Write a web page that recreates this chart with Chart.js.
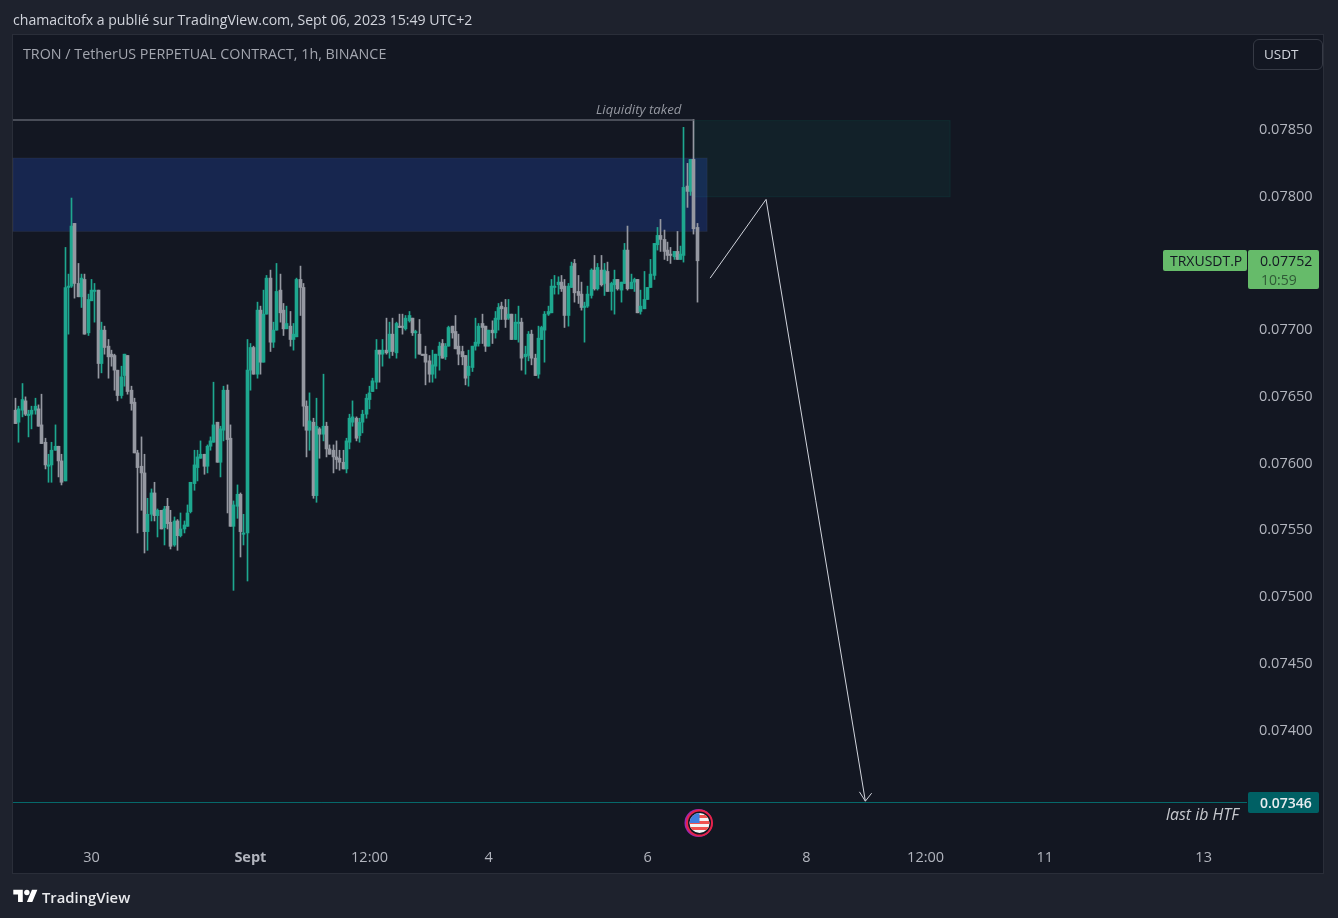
<!DOCTYPE html>
<html lang="fr">
<head>
<meta charset="utf-8">
<title>TRXUSDT.P 1h</title>
<script src="https://cdn.jsdelivr.net/npm/chart.js@4"></script>
<style>
  html, body { margin: 0; padding: 0; width: 1338px; height: 918px; background: #1e222d; overflow: hidden; font-family: 'Open Sans', sans-serif; }
  #pane { position: absolute; left: 12px; top: 34px; width: 1310px; height: 838px; background: #131722; border: 1px solid #2a2e39; }
  #wrap { position: absolute; left: 0; top: 0; width: 1338px; height: 918px; }
  .t { position: absolute; white-space: nowrap; }
  .box { position: absolute; border-radius: 2px; }
</style>
</head>
<body>
<div id="pane"></div>
<div id="wrap"><canvas id="chart" width="1338" height="918"></canvas></div>

<div class="t" style="left:13px;top:10px;font-size:14.1px;color:#d1d4dc">chamacitofx a publié sur TradingView.com, Sept 06, 2023 15:49 UTC+2</div>
<div class="t" style="left:23px;top:44px;font-size:14.3px;color:#a3a6af">TRON / TetherUS PERPETUAL CONTRACT, 1h, BINANCE</div>
<div class="box" style="left:1253px;top:39px;width:68px;height:29px;border:1px solid #363a45;border-radius:6px"></div>
<div class="t" style="left:1264px;top:45px;font-size:13.5px;color:#d1d4dc">USDT</div>
<div class="t" style="left:596px;top:100px;font-size:13.2px;font-style:italic;color:#9598a1">Liquidity taked</div>
<div class="box" style="left:1163px;top:250px;width:84px;height:21px;background:#66bb6a"></div>
<div class="t" style="left:1170px;top:251px;font-size:14px;color:#131722">TRXUSDT.P</div>
<div class="box" style="left:1248px;top:250px;width:71px;height:39px;background:#66bb6a"></div>
<div class="t" style="left:1260px;top:251px;font-size:14.2px;color:#131722">0.07752</div>
<div class="t" style="left:1261px;top:270px;font-size:14px;color:#2f5a36">10:59</div>
<div class="box" style="left:1248px;top:792px;width:71px;height:21px;background:#006064"></div>
<div class="t" style="left:1260px;top:793px;font-size:14px;font-weight:600;color:#e8ecef">0.07346</div>
<div class="t" style="left:1166px;top:803px;font-size:15.9px;font-style:italic;color:#c6c8ce">last ib HTF</div>

<svg style="position:absolute;left:684px;top:808px" width="30" height="30" viewBox="0 0 30 30">
  <defs><clipPath id="flagClip"><circle cx="15" cy="15" r="10"/></clipPath></defs>
  <circle cx="14.5" cy="15" r="14" fill="#9c27b0"/>
  <circle cx="15.5" cy="15" r="13.5" fill="#e6234a"/>
  <circle cx="15.5" cy="15" r="11.5" fill="#131722"/>
  <g clip-path="url(#flagClip)" transform="translate(0.5,0)">
    <rect x="4" y="4" width="22" height="22" fill="#f5f5f5"/>
    <rect x="4" y="7" width="22" height="3" fill="#ef5350"/>
    <rect x="4" y="13" width="22" height="3" fill="#ef5350"/>
    <rect x="4" y="19" width="22" height="3" fill="#ef5350"/>
    <rect x="4" y="4" width="11" height="11" fill="#3f7fe0"/>
  </g>
</svg>

<svg style="position:absolute;left:13px;top:887px" width="25" height="19" viewBox="0 0 36 28">
  <path fill="#ffffff" d="M14 22H7V11H0V4h14v18zM28 22h-8l7.5-18h8L28 22z"/>
  <circle fill="#ffffff" cx="20" cy="8" r="4"/>
</svg>
<div class="t" style="left:42px;top:887px;font-size:14.8px;font-weight:600;color:#e8e9ec">TradingView</div>

<script>
// Hourly candles
const opens = [
  0.07640,0.07631,0.07640,0.07647,0.07636,0.07637,0.07640,0.07641,0.07629,0.07616,
  0.07598,0.07599,0.07610,0.07613,0.07602,0.07587,0.07732,0.07733,0.07780,0.07735,
  0.07725,0.07738,0.07698,0.07722,0.07729,0.07730,0.07675,0.07700,0.07688,0.07682,
  0.07681,0.07670,0.07651,0.07666,0.07681,0.07655,0.07646,0.07608,0.07598,0.07593,
  0.07549,0.07562,0.07578,0.07561,0.07565,0.07552,0.07568,0.07556,0.07539,0.07557,
  0.07546,0.07551,0.07553,0.07564,0.07585,0.07597,0.07604,0.07607,0.07598,0.07613,
  0.07616,0.07631,0.07601,0.07625,0.07655,0.07619,0.07553,0.07568,0.07577,0.07547,
  0.07548,0.07670,0.07687,0.07667,0.07715,0.07676,0.07712,0.07739,0.07691,0.07700,
  0.07730,0.07715,0.07701,0.07703,0.07693,0.07695,0.07738,0.07732,0.07643,0.07625,
  0.07631,0.07576,0.07626,0.07622,0.07628,0.07611,0.07610,0.07605,0.07604,0.07601,
  0.07596,0.07616,0.07631,0.07634,0.07621,0.07631,0.07637,0.07648,0.07654,0.07661,
  0.07685,0.07682,0.07685,0.07684,0.07697,0.07683,0.07703,0.07703,0.07701,0.07707,
  0.07709,0.07698,0.07697,0.07682,0.07682,0.07677,0.07667,0.07673,0.07681,0.07690,
  0.07680,0.07688,0.07703,0.07699,0.07688,0.07684,0.07681,0.07666,0.07672,0.07688,
  0.07690,0.07705,0.07703,0.07688,0.07700,0.07698,0.07708,0.07718,0.07717,0.07709,
  0.07712,0.07693,0.07705,0.07706,0.07680,0.07681,0.07697,0.07679,0.07667,0.07693,
  0.07700,0.07712,0.07713,0.07732,0.07734,0.07736,0.07733,0.07711,0.07732,0.07750,
  0.07729,0.07727,0.07717,0.07718,0.07726,0.07745,0.07731,0.07745,0.07735,0.07744,
  0.07729,0.07734,0.07738,0.07730,0.07735,0.07760,0.07731,0.07736,0.07738,0.07714,
  0.07716,0.07723,0.07732,0.07741,0.07764,0.07771,0.07768,0.07760,0.07757,0.07755,
  0.07759,0.07753,0.07756,0.07808,0.07804,0.07828,0.07777
];
const highs = [
  0.07649,0.07643,0.07660,0.07650,0.07640,0.07643,0.07649,0.07644,0.07652,0.07619,
  0.07607,0.07616,0.07629,0.07613,0.07607,0.07762,0.07742,0.07799,0.07780,0.07750,
  0.07742,0.07742,0.07727,0.07738,0.07735,0.07730,0.07706,0.07703,0.07693,0.07685,
  0.07682,0.07670,0.07673,0.07682,0.07681,0.07658,0.07649,0.07610,0.07620,0.07607,
  0.07574,0.07581,0.07586,0.07566,0.07565,0.07568,0.07574,0.07565,0.07560,0.07558,
  0.07563,0.07557,0.07569,0.07586,0.07610,0.07610,0.07617,0.07607,0.07614,0.07620,
  0.07661,0.07631,0.07628,0.07658,0.07659,0.07629,0.07572,0.07584,0.07578,0.07562,
  0.07693,0.07690,0.07688,0.07721,0.07718,0.07730,0.07741,0.07745,0.07706,0.07750,
  0.07742,0.07720,0.07718,0.07714,0.07705,0.07739,0.07748,0.07735,0.07647,0.07653,
  0.07634,0.07649,0.07627,0.07667,0.07631,0.07614,0.07614,0.07617,0.07610,0.07610,
  0.07619,0.07637,0.07647,0.07635,0.07634,0.07640,0.07652,0.07658,0.07664,0.07693,
  0.07685,0.07693,0.07709,0.07706,0.07709,0.07706,0.07712,0.07712,0.07711,0.07714,
  0.07709,0.07700,0.07708,0.07682,0.07688,0.07681,0.07685,0.07682,0.07691,0.07693,
  0.07690,0.07703,0.07703,0.07711,0.07697,0.07688,0.07681,0.07685,0.07688,0.07709,
  0.07705,0.07712,0.07703,0.07700,0.07707,0.07714,0.07720,0.07721,0.07723,0.07723,
  0.07712,0.07712,0.07718,0.07709,0.07688,0.07699,0.07700,0.07682,0.07703,0.07703,
  0.07714,0.07718,0.07738,0.07741,0.07740,0.07741,0.07738,0.07735,0.07751,0.07753,
  0.07741,0.07736,0.07721,0.07733,0.07746,0.07756,0.07750,0.07756,0.07750,0.07751,
  0.07736,0.07745,0.07738,0.07736,0.07765,0.07778,0.07742,0.07739,0.07738,0.07730,
  0.07744,0.07732,0.07753,0.07765,0.07777,0.07783,0.07775,0.07766,0.07762,0.07759,
  0.07774,0.07763,0.07852,0.07825,0.07828,0.07858,0.07780
];
const lows = [
  0.07630,0.07616,0.07635,0.07636,0.07620,0.07626,0.07637,0.07628,0.07615,0.07596,
  0.07586,0.07586,0.07610,0.07590,0.07584,0.07587,0.07697,0.07732,0.07724,0.07725,
  0.07717,0.07697,0.07696,0.07722,0.07706,0.07664,0.07668,0.07682,0.07664,0.07673,
  0.07655,0.07647,0.07649,0.07658,0.07652,0.07640,0.07608,0.07548,0.07565,0.07533,
  0.07535,0.07557,0.07557,0.07545,0.07551,0.07539,0.07551,0.07536,0.07538,0.07535,
  0.07545,0.07548,0.07553,0.07563,0.07580,0.07587,0.07604,0.07592,0.07593,0.07610,
  0.07616,0.07601,0.07590,0.07617,0.07563,0.07553,0.07505,0.07559,0.07530,0.07539,
  0.07512,0.07655,0.07667,0.07664,0.07667,0.07676,0.07712,0.07684,0.07687,0.07700,
  0.07706,0.07696,0.07701,0.07688,0.07685,0.07695,0.07711,0.07628,0.07605,0.07610,
  0.07574,0.07571,0.07604,0.07617,0.07605,0.07607,0.07593,0.07596,0.07595,0.07596,
  0.07593,0.07611,0.07628,0.07617,0.07616,0.07623,0.07634,0.07641,0.07654,0.07656,
  0.07661,0.07673,0.07682,0.07679,0.07681,0.07679,0.07702,0.07697,0.07700,0.07706,
  0.07696,0.07679,0.07682,0.07681,0.07659,0.07661,0.07661,0.07664,0.07670,0.07679,
  0.07678,0.07688,0.07694,0.07686,0.07674,0.07674,0.07659,0.07658,0.07669,0.07685,
  0.07688,0.07690,0.07684,0.07688,0.07690,0.07694,0.07700,0.07708,0.07702,0.07708,
  0.07693,0.07693,0.07691,0.07670,0.07667,0.07677,0.07674,0.07666,0.07664,0.07693,
  0.07676,0.07711,0.07713,0.07727,0.07727,0.07729,0.07702,0.07703,0.07732,0.07721,
  0.07720,0.07715,0.07691,0.07717,0.07724,0.07730,0.07730,0.07733,0.07726,0.07729,
  0.07715,0.07712,0.07730,0.07721,0.07735,0.07730,0.07731,0.07729,0.07713,0.07712,
  0.07716,0.07723,0.07732,0.07738,0.07760,0.07759,0.07753,0.07752,0.07750,0.07753,
  0.07753,0.07753,0.07751,0.07792,0.07801,0.07772,0.07721
];
const closes = [
  0.07630,0.07641,0.07648,0.07637,0.07637,0.07640,0.07643,0.07628,0.07615,0.07599,
  0.07599,0.07610,0.07613,0.07602,0.07586,0.07732,0.07733,0.07778,0.07735,0.07725,
  0.07739,0.07697,0.07723,0.07730,0.07730,0.07675,0.07700,0.07687,0.07680,0.07680,
  0.07670,0.07651,0.07665,0.07682,0.07654,0.07645,0.07608,0.07597,0.07593,0.07549,
  0.07562,0.07578,0.07561,0.07565,0.07551,0.07566,0.07555,0.07538,0.07557,0.07546,
  0.07551,0.07554,0.07563,0.07586,0.07599,0.07605,0.07607,0.07598,0.07613,0.07617,
  0.07629,0.07601,0.07626,0.07655,0.07618,0.07553,0.07569,0.07577,0.07549,0.07548,
  0.07670,0.07687,0.07667,0.07715,0.07676,0.07712,0.07739,0.07691,0.07700,0.07729,
  0.07713,0.07701,0.07705,0.07693,0.07697,0.07738,0.07732,0.07643,0.07625,0.07632,
  0.07576,0.07628,0.07622,0.07628,0.07611,0.07607,0.07605,0.07603,0.07601,0.07596,
  0.07617,0.07634,0.07635,0.07619,0.07631,0.07637,0.07649,0.07653,0.07662,0.07685,
  0.07682,0.07685,0.07683,0.07697,0.07684,0.07705,0.07702,0.07702,0.07709,0.07711,
  0.07698,0.07699,0.07682,0.07681,0.07676,0.07667,0.07674,0.07682,0.07688,0.07679,
  0.07688,0.07702,0.07698,0.07686,0.07682,0.07680,0.07664,0.07673,0.07688,0.07691,
  0.07703,0.07702,0.07688,0.07700,0.07698,0.07709,0.07717,0.07716,0.07708,0.07712,
  0.07693,0.07706,0.07706,0.07679,0.07682,0.07697,0.07679,0.07666,0.07694,0.07702,
  0.07712,0.07714,0.07733,0.07733,0.07736,0.07731,0.07711,0.07733,0.07748,0.07728,
  0.07726,0.07717,0.07718,0.07727,0.07745,0.07731,0.07747,0.07734,0.07745,0.07729,
  0.07735,0.07738,0.07731,0.07736,0.07760,0.07731,0.07736,0.07738,0.07713,0.07718,
  0.07723,0.07732,0.07742,0.07765,0.07771,0.07768,0.07759,0.07756,0.07756,0.07759,
  0.07753,0.07757,0.07807,0.07804,0.07828,0.07776,0.07752
];

// Axis ticks (x values are hours counted from the first candle)
const timeTicks = [23, 71, 107, 143, 191, 239, 275, 311, 359];
const timeLabels = ['30', 'Sept', '12:00', '4', '6', '8', '12:00', '11', '13'];
const priceTicks = [0.074, 0.0745, 0.075, 0.0755, 0.076, 0.0765, 0.077, 0.0775, 0.078, 0.0785];

// Drawings on the chart: [hour, price]
const liquidityLine = [[-1, 0.078575], [205, 0.078575]];
const targetLine = [[-1, 0.07346], [373, 0.07346]];
const forecastPath = [[209.9, 0.07739], [226.8, 0.07798], [256.8, 0.07347]];
const arrowHead = [[255.0, 0.07354], [256.8, 0.07347], [258.7, 0.07353]];
// Zones: [first hour, last hour, top price, bottom price]
const supplyZone = [-1, 209, 0.07829, 0.07774];
const entryZone = [205.2, 282.4, 0.07857, 0.07800];

const UP = '#1ea78f';
const DOWN = '#9598a1';
const candleColors = closes.map((c, i) => (c >= opens[i] ? UP : DOWN));

const toPoints = rows => rows.map(r => ({ x: r[0], y: r[1] }));

function lineDataset(rows, color, width) {
    return {
        type: 'line',
        data: toPoints(rows),
        borderColor: color,
        borderWidth: width,
        pointRadius: 0,
        tension: 0,
        order: 0,
    };
}

// Zones sit behind the candles
const zonesPlugin = {
    id: 'zones',
    beforeDatasetsDraw(chart) {
        const { ctx, chartArea, scales: { x, y } } = chart;
        const draw = (zone, fill, stroke) => {
            const left = Math.max(x.getPixelForValue(zone[0]), chartArea.left);
            const right = x.getPixelForValue(zone[1]);
            const top = y.getPixelForValue(zone[2]);
            const bottom = y.getPixelForValue(zone[3]);
            ctx.fillStyle = fill;
            ctx.fillRect(left, top, right - left, bottom - top);
            ctx.strokeStyle = stroke;
            ctx.lineWidth = 1;
            ctx.strokeRect(left, top, right - left, bottom - top);
        };
        ctx.save();
        draw(entryZone, 'rgba(8, 153, 129, 0.08)', 'rgba(8, 153, 129, 0.12)');
        draw(supplyZone, 'rgba(40, 95, 240, 0.22)', 'rgba(120, 123, 134, 0.12)');
        ctx.restore();
    },
};

// Snap candles to whole pixels so wicks stay crisp
const snapPlugin = {
    id: 'snap',
    afterDatasetsUpdate(chart) {
        chart.getSortedVisibleDatasetMetas().forEach(meta => {
            if (meta.type !== 'bar') return;
            meta.data.forEach(bar => { bar.x = Math.floor(bar.x) + 0.5; });
        });
    },
};

new Chart(document.getElementById('chart'), {
    type: 'bar',
    data: {
        datasets: [
            {
                data: opens.map((o, i) => ({ x: i, y: [lows[i], highs[i]] })),
                backgroundColor: candleColors,
                barThickness: 1,
                grouped: false,
                order: 2,
            },
            {
                data: opens.map((o, i) => ({ x: i, y: [o, closes[i]] })),
                backgroundColor: candleColors,
                barThickness: 3,
                minBarLength: 1,
                grouped: false,
                order: 1,
            },
            lineDataset(liquidityLine, '#5d606b', 1.5),
            lineDataset(targetLine, '#06686a', 1),
            lineDataset(forecastPath, '#d1d4dc', 1),
            lineDataset(arrowHead, '#d1d4dc', 1),
        ],
    },
    options: {
        responsive: false,
        animation: false,
        layout: { padding: { left: 13, top: 35, right: 0, bottom: 45 } },
        plugins: { legend: { display: false }, tooltip: { enabled: false } },
        scales: {
            x: {
                type: 'linear',
                offset: false,
                min: -0.72,
                max: 372.1,
                grid: { display: false, drawTicks: false },
                border: { display: false },
                afterFit(scale) { scale.height = 35; },
                afterBuildTicks(scale) { scale.ticks = timeTicks.map(v => ({ value: v })); },
                ticks: {
                    autoSkip: false,
                    maxRotation: 0,
                    padding: 11,
                    color: '#b2b5be',
                    font: ctx => ({
                        family: "'Open Sans', sans-serif",
                        size: 14.5,
                        weight: ctx.tick && ctx.tick.value === timeTicks[1] ? 'bold' : 'normal',
                    }),
                    callback: value => timeLabels[timeTicks.indexOf(value)],
                },
            },
            y: {
                type: 'linear',
                position: 'right',
                min: 0.073194,
                max: 0.079212,
                grid: { display: false, drawTicks: false },
                border: { display: false },
                afterFit(scale) { scale.width = 91; },
                afterBuildTicks(scale) { scale.ticks = priceTicks.map(v => ({ value: v })); },
                ticks: {
                    padding: 12,
                    color: '#b2b5be',
                    font: { family: "'Open Sans', sans-serif", size: 14.5 },
                    callback: value => value.toFixed(5),
                },
            },
        },
    },
    plugins: [zonesPlugin, snapPlugin],
});
</script>
</body>
</html>
